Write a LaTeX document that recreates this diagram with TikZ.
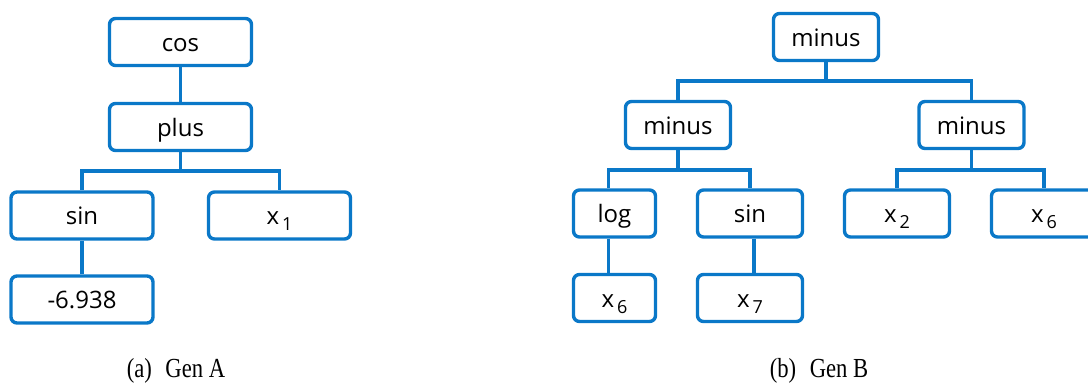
\documentclass[tikz,border=0pt]{standalone}
\usepackage{fontspec}
\setmainfont{Liberation Serif}
\newfontfamily\boxfont{Open Sans}
\usetikzlibrary{calc}
\definecolor{treeblue}{RGB}{10,120,200}
\newcommand\xsub[1]{x\kern1.5pt\raisebox{-2.8pt}{\fontsize{9}{10}\selectfont #1}}
\newcommand\subcap[1]{\scalebox{0.92}[1.12]{#1}}
\tikzset{
	box/.style={draw=treeblue, line width=1.7pt, rounded corners=3pt, fill=white,
		minimum height=23.5pt, minimum width=52.5pt, inner sep=0pt,
		text height=10.5pt, text depth=1pt, font=\boxfont\fontsize{12}{14}\selectfont},
	widebox/.style={box, minimum width=71pt},
	narrowbox/.style={box, minimum width=41pt},
	link/.style={draw=treeblue, line width=1.7pt},
	sub/.style={font=\fontsize{12.3}{14}\selectfont}
}

\begin{document}
\begin{tikzpicture}[x=0.5pt, y=-0.5pt]
		%%%%% START %%%%%
		\useasboundingbox (0, 0) rectangle (1088, 383);
		\clip (0, 0) rectangle (1088, 383);
		
		% tree A
		\node[widebox] (cos) at (180.5, 42) {cos};
		\node[widebox] (plus) at (180.5, 127) {plus};
		\node[widebox] (sinA) at (82, 215.5) {sin};
		\node[widebox] (xone) at (279.5, 215.5) {\xsub{1}};
		\node[widebox] (const) at (82, 299.5) {-6.938};
		
		\draw[link] (cos) -- (plus);
		\draw[link] (plus.south) -- ++(0, 19) -| (sinA.north);
		\draw[link] (plus.south) -- ++(0, 19) -| (xone.north);
		\draw[link] (sinA) -- (const);
		
		% tree B
		\node[box] (root) at (826, 37) {minus};
		\node[box] (minusL) at (678, 125) {minus};
		\node[box] (minusR) at (971.5, 125) {minus};
		\node[narrowbox] (log) at (614.5, 213.5) {log};
		\node[box] (sinB) at (750, 213.5) {sin};
		\node[box] (xtwo) at (897, 213.5) {\xsub{2}};
		\node[box] (xsixR) at (1044, 213.5) {\xsub{6}};
		\node[narrowbox] (xsixL) at (614.5, 298) {\xsub{6}};
		\node[box] (xseven) at (750, 298) {\xsub{7}};
		
		\draw[link] (root.south) -- ++(0, 19) -| (minusL.north);
		\draw[link] (root.south) -- ++(0, 19) -| (minusR.north);
		\draw[link] (minusL.south) -- ++(0, 20) -| ([xshift=-3pt]log.north);
		\draw[link] (minusL.south) -- ++(0, 20) -| (sinB.north);
		\draw[link] (minusR.south) -- ++(0, 20) -| (xtwo.north);
		\draw[link] (minusR.south) -- ++(0, 20) -| (xsixR.north);
		\draw[link] ([xshift=-3pt]log.south) -- ([xshift=-3pt]xsixL.north);
		\draw[link] ([xshift=2pt]sinB.south) -- ([xshift=2pt]xseven.north);
		
		% captions
		\node[sub] (capA) at (176, 371) {\subcap{(a)\hspace{0.6em}Gen A}};
		\node[sub] (capB) at (819, 371) {\subcap{(b)\hspace{0.6em}Gen B}};
		%%%%% END %%%%%
	\end{tikzpicture}
\end{document}
